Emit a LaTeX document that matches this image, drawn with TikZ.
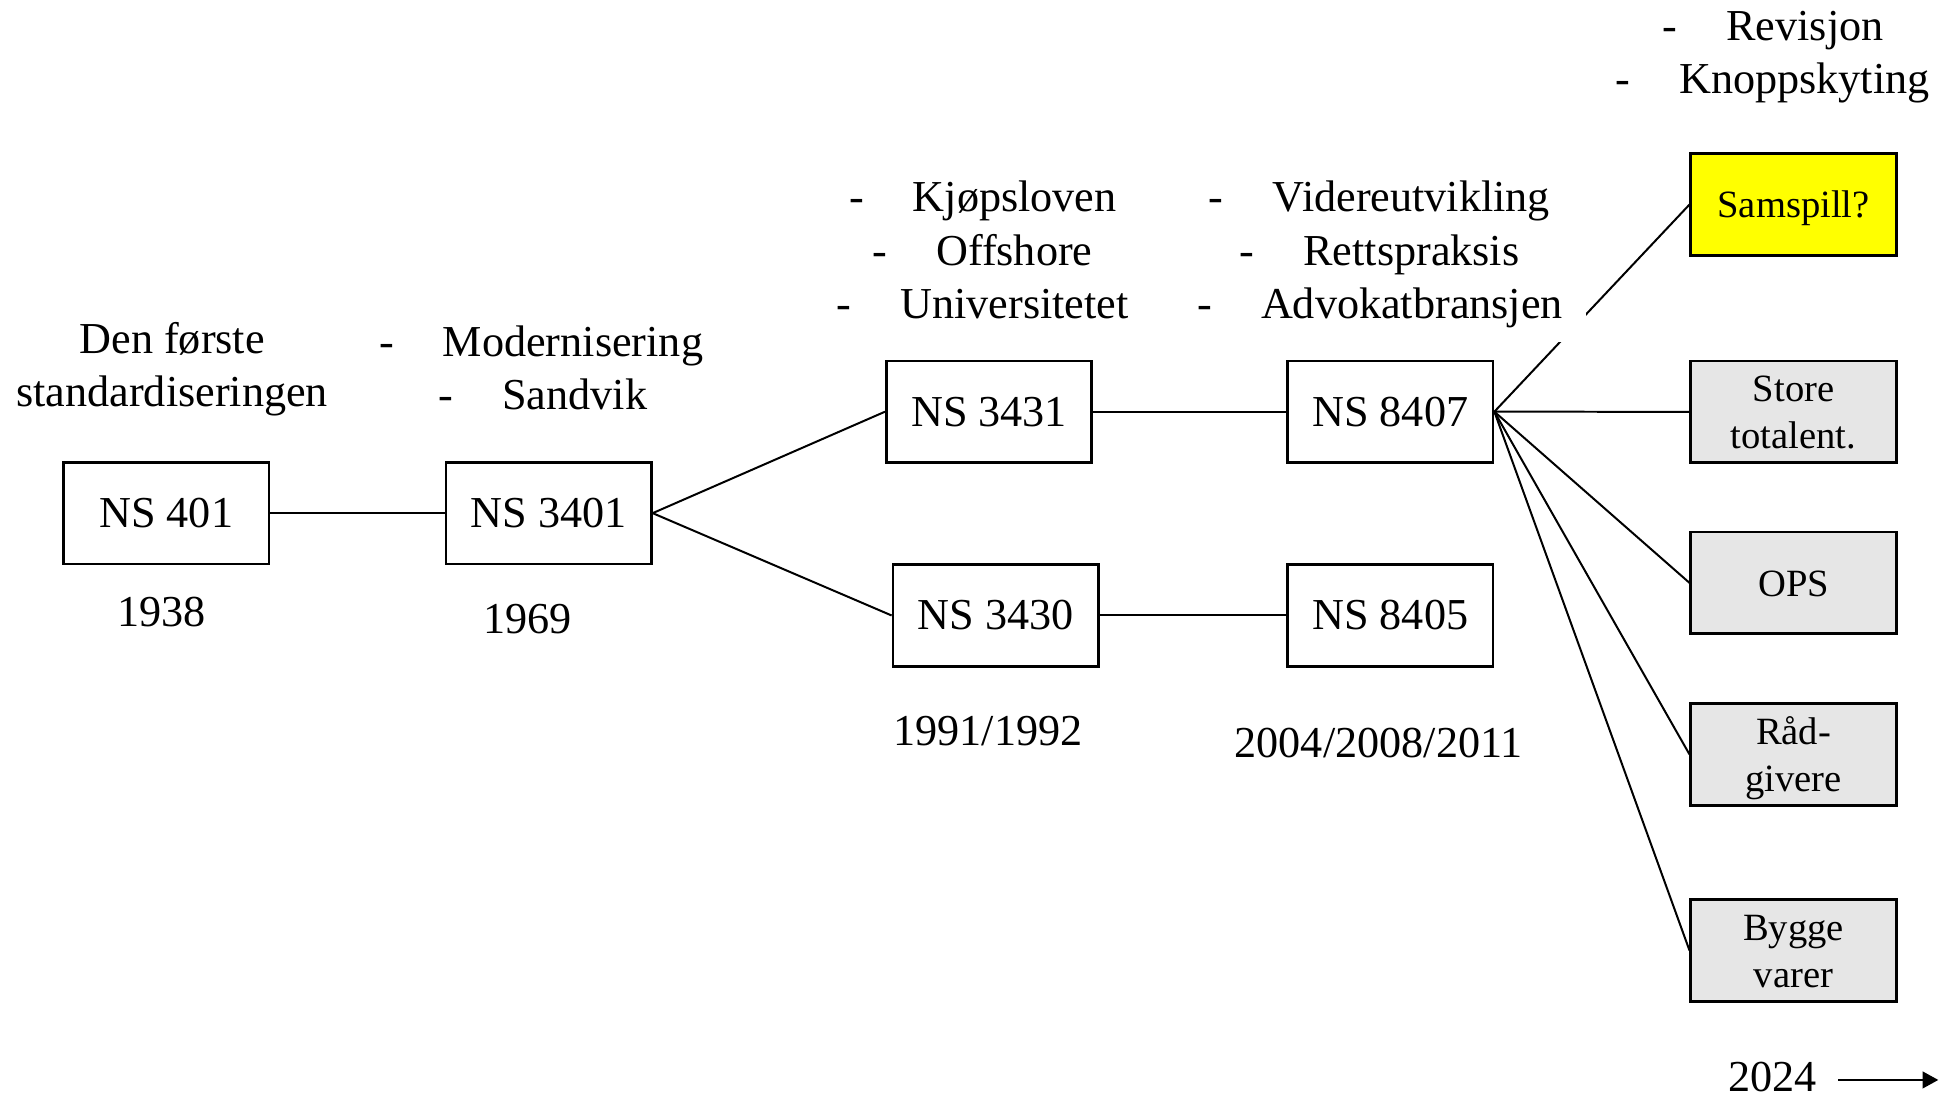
\documentclass[tikz,border=0pt]{standalone}
\usepackage{fontspec}
\setmainfont{Liberation Serif}
\usetikzlibrary{arrows.meta}
\definecolor{boxgray}{HTML}{E6E6E6}
\definecolor{samyellow}{HTML}{FFFF00}
\newcommand\dashitem[1]{\makebox[1.445em][l]{-}#1}
\newcommand\gstrut{\rule[-3.5pt]{0pt}{17.8pt}}
\begin{document}
\begin{tikzpicture}[x=0.5pt,y=-0.5pt,
  main/.style={font=\fontsize{17.75}{21.3}\selectfont},
  nsbox/.style={main,draw=black,line width=1.08pt,fill=white,minimum width=82.5pt,minimum height=40.8pt,inner sep=0pt},
  subbox/.style={nsbox,font=\fontsize{15.5}{18.75}\selectfont,align=center},
  lbl/.style={main,inner sep=0pt,anchor=base},
  bul/.style={main,inner sep=0pt,anchor=base west},
  link/.style={line width=0.8pt,draw=black}]
\useasboundingbox (0,0) rectangle (1568,882);

% boxes
\node[nsbox] (ns401) at (133.5,412.2) {NS 401};
\node[nsbox] (ns3401) at (440.7,412.2) {NS 3401};
\node[nsbox] (ns3431) at (794.5,330.7) {NS 3431};
\node[nsbox] (ns3430) at (799.8,494.4) {NS 3430};
\node[nsbox] (ns8407) at (1116.8,330.7) {NS 8407};
\node[nsbox] (ns8405) at (1116.8,494.4) {NS 8405};
\node[subbox,fill=samyellow] (samspill) at (1440.7,164.3) {\gstrut Samspill?};
\node[subbox,fill=boxgray] (store) at (1440.7,330.8) {\gstrut Store\\\gstrut totalent.};
\node[subbox,fill=boxgray] (ops) at (1440.7,468.2) {\gstrut OPS};
\node[subbox,fill=boxgray] (rad) at (1440.7,606) {\gstrut Råd-\\\gstrut givere};
\node[subbox,fill=boxgray] (bygge) at (1440.7,763.5) {\gstrut Bygge\\\gstrut varer};

% connectors
\draw[link] (ns401.east) -- (ns3401.west);
\draw[link] (ns3401.east) -- (ns3431.west);
\draw[link] (ns3401.east) -- (ns3430.west);
\draw[link] (ns3431.east) -- (ns8407.west);
\draw[link] (ns3430.east) -- (ns8405.west);
\foreach \t in {samspill,store,ops,rad,bygge}
  \draw[link] (ns8407.east) -- (\t.west);

% text box background of the right list (hides part of the line)
\fill[white] (944,135) rectangle (1274,274.4);

% labels
\node[lbl] (den) at (138.3,284.3) {Den første};
\node[lbl] (std) at (138.3,326.6) {standardiseringen};
\node[bul] (mod) at (304.1,286) {\dashitem{Modernisering}};
\node[bul] (sand) at (351.8,329.3) {\dashitem{Sandvik}};
\node[bul] (kjop) at (681.6,170) {\dashitem{Kjøpsloven}};
\node[bul] (off) at (700.3,213) {\dashitem{Offshore}};
\node[bul] (uni) at (671.6,255.6) {\dashitem{Universitetet}};
\node[bul] (vid) at (970.7,170) {\dashitem{Videreutvikling}};
\node[bul] (rett) at (995.3,213) {\dashitem{Rettspraksis}};
\node[bul] (adv) at (961.3,255.6) {\dashitem{Advokatbransjen}};
\node[bul] (rev) at (1335.1,32.7) {\dashitem{Revisjon}};
\node[bul] (knopp) at (1297.1,75) {\dashitem{Knoppskyting}};

\node[lbl] (y1938) at (129.9,503.3) {1938};
\node[lbl] (y1969) at (424,508.7) {1969};
\node[lbl] (y1991) at (793.7,599.2) {1991/1992};
\node[lbl] (y2004) at (1107.5,608.3) {2004/2008/2011};
\node[lbl] (y2024) at (1423.7,876.5) {2024};

\coordinate (ta) at (1476.6,867.5);
\coordinate (tb) at (1557,867.5);
\draw[link,-{Triangle[length=6.3pt,width=6.7pt]}] (ta) -- (tb);
\end{tikzpicture}
\end{document}
